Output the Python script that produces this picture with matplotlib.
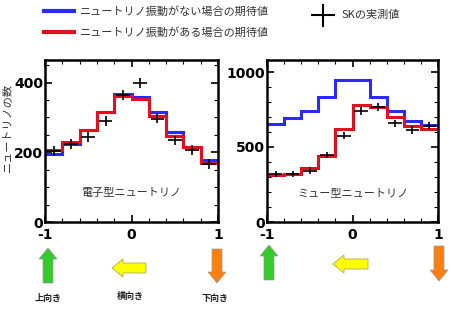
import numpy as np
import matplotlib
matplotlib.use("Agg")
import matplotlib.pyplot as plt
from matplotlib.patches import Polygon

jp = ['Noto Sans CJK JP', 'DejaVu Sans']

edges = np.linspace(-1, 1, 11)
centers = (edges[:-1] + edges[1:]) / 2

# electron neutrino
e_no_osc = [194, 225, 264, 316, 368, 359, 317, 257, 215, 178]
e_osc = [206, 230, 265, 316, 363, 353, 303, 246, 215, 169]
e_data = [203, 223, 244, 289, 365, 398, 297, 234, 206, 167]
e_err = [14, 14, 14, 14, 14, 14, 14, 14, 14, 14]

# muon neutrino
mu_no_osc = [654, 692, 743, 835, 949, 949, 835, 743, 674, 647]
mu_osc = [312, 317, 357, 440, 621, 777, 768, 703, 643, 621]
mu_data = [321, 319, 342, 446, 576, 741, 766, 658, 614, 641]
mu_err = [22, 22, 22, 22, 24, 26, 26, 24, 24, 24]

W, H = 451, 318
fig = plt.figure(figsize=(W / 100, H / 100), dpi=100)

blue = '#2a2aff'
red = '#e0101e'


def px_axes(x0, y0, x1, y1):
    return fig.add_axes([x0 / W, 1 - y1 / H, (x1 - x0) / W, (y1 - y0) / H])


def panel(ax, no_osc, osc, data, err, ymax, major, minor, label):
    ax.stairs(no_osc, edges, color=blue, lw=2.2, baseline=None)
    ax.stairs(osc, edges, color=red, lw=2.2, baseline=None)
    ax.errorbar(centers, data, xerr=0.08, yerr=err, fmt='none', ecolor='black', elinewidth=1.2)
    ax.set_xlim(-1, 1)
    ax.set_ylim(0, ymax)
    ax.set_xticks([-1, 0, 1])
    ax.set_xticklabels(['-1', '0', '1'])
    ax.set_xticks(edges, minor=True)
    ax.set_yticks(np.arange(0, ymax, major))
    ax.set_yticks(np.arange(0, ymax, minor), minor=True)
    ax.tick_params(which='both', direction='in', top=True, right=True)
    ax.tick_params(which='major', length=5, width=1.2, labelsize=10)
    ax.tick_params(axis='x', which='major', pad=4.5)
    ax.tick_params(axis='y', which='major', pad=1.5)
    ax.tick_params(which='minor', length=3, width=0.8)
    for t in ax.get_xticklabels() + ax.get_yticklabels():
        t.set_fontweight('bold')
    for s in ax.spines.values():
        s.set_linewidth(1.8)
    ax.text(0.5, 0.18, label, transform=ax.transAxes, ha='center', va='center',
            fontsize=8, family=jp, color='#333333')


ax1 = px_axes(45, 60, 218, 222)
panel(ax1, e_no_osc, e_osc, e_data, e_err, 465, 200, 50, '電子型ニュートリノ')
ax2 = px_axes(267, 60, 438, 222)
panel(ax2, mu_no_osc, mu_osc, mu_data, mu_err, 1080, 500, 100, 'ミュー型ニュートリノ')

fig.text(7 / W, 1 - 127 / H, 'ニュートリノの数', rotation=90, ha='center', va='center',
         fontsize=8, family=jp, color='#333333')

# overlay in pixel coords for legend and arrows
ov = fig.add_axes([0, 0, 1, 1], zorder=-1)
ov.set_xlim(0, W)
ov.set_ylim(H, 0)
ov.axis('off')

ov.plot([44, 74], [11, 11], color=blue, lw=3)
ov.plot([44, 74], [32, 32], color=red, lw=3)
ov.text(80, 11, 'ニュートリノ振動がない場合の期待値', va='center', fontsize=8, family=jp, color='#333333')
ov.text(80, 32, 'ニュートリノ振動がある場合の期待値', va='center', fontsize=8, family=jp, color='#333333')
ov.plot([312, 334], [15, 15], color='black', lw=1.5)
ov.plot([323, 323], [5, 26], color='black', lw=1.5)
ov.text(341, 15, 'SKの実測値', va='center', fontsize=8, family=jp, color='#333333')


def v_arrow(cx, top, bottom, up, color):
    hw, sw, hh = 9, 5, 11
    if up:
        pts = [(cx, top), (cx + hw, top + hh), (cx + sw, top + hh), (cx + sw, bottom),
               (cx - sw, bottom), (cx - sw, top + hh), (cx - hw, top + hh)]
    else:
        pts = [(cx, bottom), (cx + hw, bottom - hh), (cx + sw, bottom - hh), (cx + sw, top),
               (cx - sw, top), (cx - sw, bottom - hh), (cx - hw, bottom - hh)]
    ov.add_patch(Polygon(pts, closed=True, facecolor=color, edgecolor='#999999', lw=0.5))


def l_arrow(tip, tail, cy, color):
    hw, sw, hl = 9, 5, 11
    pts = [(tip, cy), (tip + hl, cy - hw), (tip + hl, cy - sw), (tail, cy - sw),
           (tail, cy + sw), (tip + hl, cy + sw), (tip + hl, cy + hw)]
    ov.add_patch(Polygon(pts, closed=True, facecolor=color, edgecolor='#aaaa55', lw=0.6))


green = '#33cc2a'
yellow = '#ffff00'
orange = '#ff7f0e'

v_arrow(48, 248, 283, True, green)
l_arrow(112, 146, 268, yellow)
v_arrow(217, 249, 283, False, orange)
v_arrow(269, 245, 280, True, green)
l_arrow(333, 368, 264, yellow)
v_arrow(439, 246, 281, False, orange)

for x, y, s in [(48, 298, '上向き'), (130, 296, '横向き'), (215, 298, '下向き')]:
    ov.text(x, y, s, ha='center', va='center', fontsize=6.5, family=jp,
            fontweight='bold', color='#222222')

fig.savefig('out.png', dpi=100)
